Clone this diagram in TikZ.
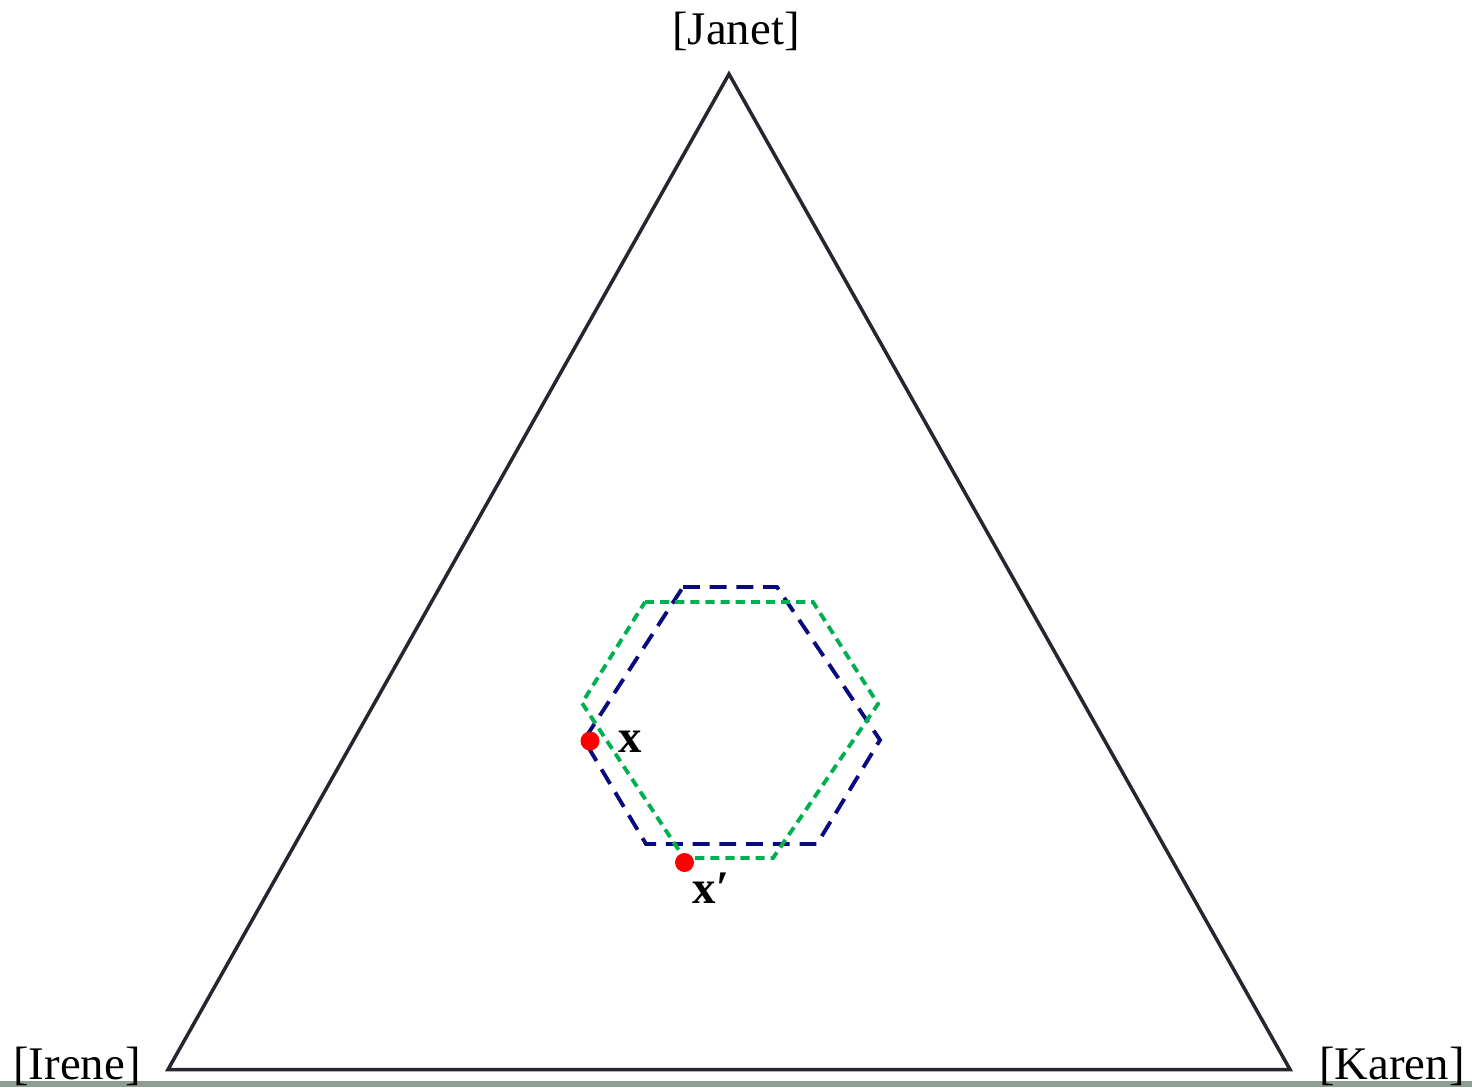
\documentclass[tikz,border=0pt]{standalone}
\usepackage{fontspec}
\setmainfont{Liberation Serif}
\definecolor{edgegray}{RGB}{38,38,46}
\definecolor{hexblue}{RGB}{10,10,128}
\definecolor{hexgreen}{RGB}{0,176,80}
\definecolor{stripgray}{RGB}{142,158,148}
\tikzset{
  corner/.style={font=\fontsize{13.3}{16}\selectfont, anchor=base},
  ptlabel/.style={font=\fontsize{13.3}{16}\selectfont\bfseries, anchor=base west, inner sep=0pt},
  dot/.style={circle, fill=red, inner sep=0pt, minimum size=0.19cm},
  bluehex/.style={hexblue, line width=1.1pt, dash pattern=on 4.8pt off 2.8pt},
  greenhex/.style={hexgreen, line width=1.1pt, dash pattern=on 2.6pt off 1.7pt}
}
\begin{document}
\begin{tikzpicture}
  \useasboundingbox (0,0) rectangle (14.72,10.87);
  \fill[stripgray] (0,0) rectangle (14.72,0.06);
  % Simplex
  \coordinate (irene) at (1.68,0.175);
  \coordinate (karen) at (12.90,0.175);
  \coordinate (janet) at (7.29,10.13);
  \draw[edgegray, line width=1pt] (irene) -- (karen) -- (janet) -- cycle;
  \node[corner] (janetlbl) at (7.36,10.43) {[Janet]};
  \node[corner] (irenelbl) at (0.77,0.08) {[Irene]};
  \node[corner] (karenlbl) at (13.92,0.08) {[Karen]};
  % Hexagon around x
  \draw[bluehex] (6.83,5.00) -- (7.77,5.00) -- (8.80,3.47) -- (8.17,2.43)
    -- (6.46,2.43) -- (5.84,3.47) -- cycle;
  % Hexagon around x'
  \draw[greenhex] (6.45,4.85) -- (8.13,4.85) -- (8.78,3.83) -- (7.73,2.29)
    -- (6.84,2.29) -- (5.82,3.84) -- cycle;
  % Points
  \node[dot] (x) at (5.90,3.46) {};
  \node[dot] (xp) at (6.845,2.245) {};
  \node[ptlabel] (xlbl) at (6.18,3.35) {x};
  \node[ptlabel] (xplbl) at (6.92,1.84) {x′};
\end{tikzpicture}
\end{document}
